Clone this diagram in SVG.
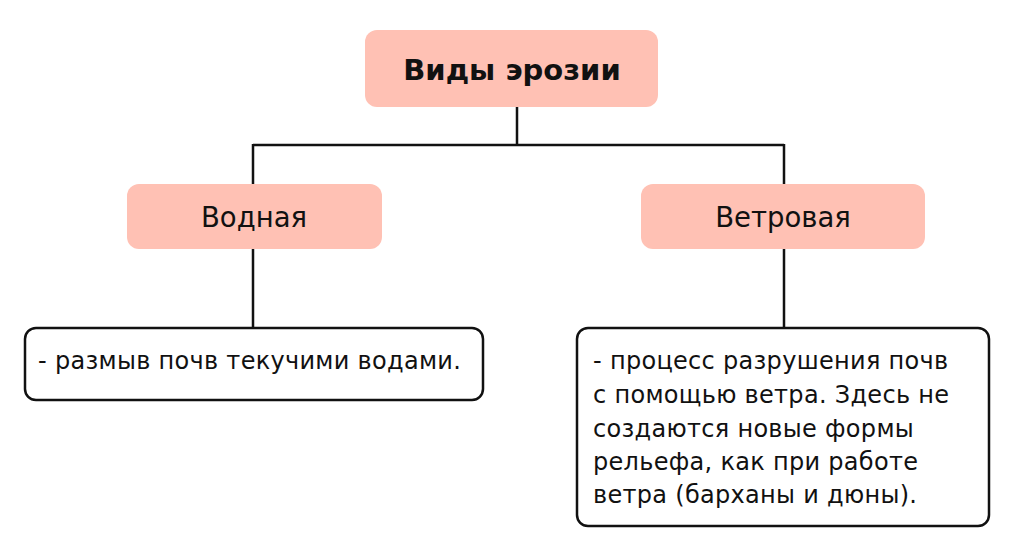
<svg xmlns="http://www.w3.org/2000/svg" width="1024" height="549" viewBox="0 0 1024 549">
<style>
.pink{fill:#FFC1B4;}
.white{fill:#ffffff;stroke:#111111;stroke-width:2.5;}
.conn{fill:none;stroke:#111111;stroke-width:2.5;}
.t{font-family:"DejaVu Sans","Liberation Sans",sans-serif;fill:#111111;}
.title{font-size:29px;font-weight:700;}
.head{font-size:27.5px;font-weight:400;}
.body{font-size:24px;font-weight:400;letter-spacing:0.3px;}
</style>
<rect width="1024" height="549" fill="#ffffff"/>
<g id="connectors">
<path class="conn" d="M517 107 V145 M253 145 H784 M253 144 V184 M784 144 V184 M253 249 V328 M784 249 V328"/>
</g>
<g id="node-root">
<rect class="pink" x="365" y="30" width="293" height="77" rx="12"/>
<text class="t title" x="512" y="79.5" text-anchor="middle">Виды эрозии</text>
</g>
<g id="node-water">
<rect class="pink" x="127" y="184" width="255" height="65" rx="12"/>
<text class="t head" x="254" y="226.5" text-anchor="middle">Водная</text>
</g>
<g id="node-wind">
<rect class="pink" x="641" y="184" width="284" height="65" rx="12"/>
<text class="t head" x="783" y="226.5" text-anchor="middle">Ветровая</text>
</g>
<g id="node-water-desc">
<rect class="white" x="25" y="328" width="458" height="72" rx="11"/>
<text class="t body" x="38" y="369">- размыв почв текучими водами.</text>
</g>
<g id="node-wind-desc">
<rect class="white" x="577" y="328" width="412" height="198" rx="11"/>
<text class="t body" x="593">
<tspan x="593" y="369">- процесс разрушения почв</tspan>
<tspan x="593" y="403">с помощью ветра. Здесь не</tspan>
<tspan x="593" y="436.5">создаются новые формы</tspan>
<tspan x="593" y="469.5">рельефа, как при работе</tspan>
<tspan x="593" y="502.5">ветра (барханы и дюны).</tspan>
</text>
</g>
</svg>
